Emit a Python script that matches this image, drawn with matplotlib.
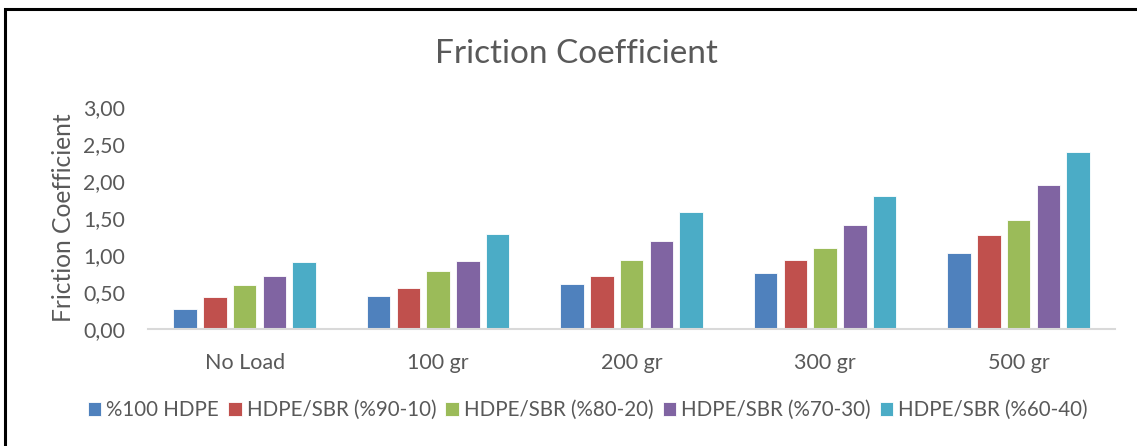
import numpy as np
import matplotlib
matplotlib.use("Agg")
import matplotlib.pyplot as plt
from matplotlib.patches import Rectangle

# data
categories = ["No Load", "100 gr", "200 gr", "300 gr", "500 gr"]
series_names = ["%100 HDPE", "HDPE/SBR (%90-10)", "HDPE/SBR (%80-20)",
                "HDPE/SBR (%70-30)", "HDPE/SBR (%60-40)"]
hdpe_100 = [0.27, 0.45, 0.61, 0.76, 1.03]
sbr_90_10 = [0.43, 0.56, 0.71, 0.93, 1.27]
sbr_80_20 = [0.59, 0.78, 0.93, 1.09, 1.47]
sbr_70_30 = [0.71, 0.92, 1.19, 1.40, 1.95]
sbr_60_40 = [0.90, 1.28, 1.58, 1.80, 2.39]
yticks = [0.0, 0.5, 1.0, 1.5, 2.0, 2.5, 3.0]

colors = ["#4F81BD", "#C0504D", "#9BBB59", "#8064A2", "#4BACC6"]
all_series = [hdpe_100, sbr_90_10, sbr_80_20, sbr_70_30, sbr_60_40]

plt.rcParams['font.family'] = ['Lato', 'DejaVu Sans']
text_col = "#595959"

fig = plt.figure(figsize=(11.37, 4.46), dpi=100)
ax = fig.add_axes([0.130, 0.2623, 0.851, 0.4977])

x = np.arange(len(categories))
pitch = 0.1536
width = 0.1215
for i, (vals, name) in enumerate(zip(all_series, series_names)):
    ax.bar(x + (i - 2) * pitch, vals, width, color=colors[i], label=name,
           edgecolor="white", linewidth=0.6)

ax.set_xlim(-0.5, 4.5)
ax.set_ylim(0, 3)
ax.set_yticks(yticks)
ax.set_yticklabels([f"{v:.2f}".replace(".", ",") for v in yticks])
ax.set_xticks(x)
ax.set_xticklabels(categories)
ax.tick_params(axis="both", length=0, colors=text_col)
ax.tick_params(axis="x", pad=17, labelsize=15.5)
ax.tick_params(axis="y", pad=16.5, labelsize=15.3)

for s in ["top", "right", "left"]:
    ax.spines[s].set_visible(False)
ax.spines["bottom"].set_color("#D9D9D9")
ax.spines["bottom"].set_linewidth(1.5)

ax.set_ylabel("Friction Coefficient", fontsize=17.7, color=text_col, labelpad=6)
fig.text(0.507, 0.880, "Friction Coefficient", ha="center", va="center",
         fontsize=24, color=text_col)

fig.legend(loc="center", bbox_to_anchor=(0.517, 0.081), ncol=5, frameon=False,
           handlelength=0.65, handleheight=0.65, handletextpad=0.25,
           columnspacing=0.45, fontsize=14.8, labelcolor=text_col)

# chart frame
fig.patches.append(Rectangle((5 / 1137, -0.1), 1.2, 1 - 9 / 446 + 0.1,
                             transform=fig.transFigure, fill=False,
                             edgecolor="black", linewidth=2.2))

fig.savefig("out.png", dpi=100)
